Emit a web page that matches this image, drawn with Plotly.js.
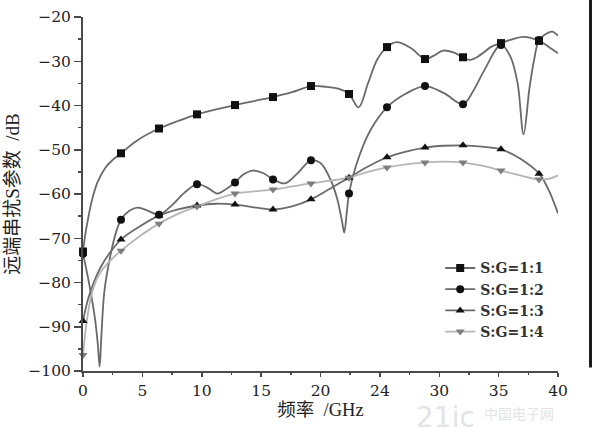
<!DOCTYPE html>
<html>
<head>
<meta charset="utf-8">
<script src="https://cdn.plot.ly/plotly-3.0.1.min.js"></script>
<style>html,body{margin:0;padding:0;background:#fff;}#chart{width:592px;height:439px;}</style>
</head>
<body>
<div id="chart"></div>
<script>
// Series names
const seriesNames = ["S:G=1:1", "S:G=1:2", "S:G=1:3", "S:G=1:4"];

// Frequencies where markers are drawn (GHz)
const markerX = [0, 3.2, 6.4, 9.6, 12.8, 16, 19.2, 22.4, 25.6, 28.8, 32, 35.2, 38.4];

// S:G=1:1 curve (GHz, dB)
const s1x = [0, 0.2, 0.4, 0.7, 1.2, 1.9, 2.5, 3.2, 4.5, 6.4, 8, 9.6, 11.2, 12.8, 14.4, 16, 17.6, 19.2, 20.5, 21.5, 22.4, 23.2, 24.0, 24.8, 25.6, 26.4, 27.6, 28.8, 29.5, 30.3, 31.2, 32, 32.6, 33.5, 34.4, 35.2, 36.2, 37.1, 38.4, 39.2, 40];
const s1y = [-73, -69, -66, -62, -57.5, -54, -52.3, -50.8, -48, -45.2, -43.5, -42.0, -40.9, -39.9, -39, -38.1, -37, -35.6, -35.8, -36.2, -37.4, -40.4, -35, -29.5, -26.8, -25.7, -27, -29.5, -28.8, -27.6, -28, -29.1, -29.7, -28.5, -26.7, -25.9, -25, -24.5, -25.4, -26.7, -28.2];

// S:G=1:2 curve
const s2x = [0, 0.5, 1.0, 1.25, 1.4, 1.55, 1.8, 2.3, 2.8, 3.2, 3.9, 4.6, 5.5, 6.4, 7.5, 8.5, 9.6, 10.5, 11.3, 12.0, 12.8, 13.5, 14.3, 15.2, 16, 17.0, 18.0, 19.2, 20.0, 20.8, 21.4, 21.8, 22.0, 22.2, 22.4, 23.0, 24.2, 25.6, 27.2, 28.8, 30.4, 32, 32.8, 33.8, 35.2, 36.0, 36.6, 37.1, 37.6, 38.0, 38.4, 39.0, 39.5, 40];
const s2y = [-73.5, -80, -88, -94, -99, -92, -82, -74, -68.5, -65.8, -63.8, -63.1, -63.8, -64.7, -62.5, -59.8, -57.8, -58.6, -59.9, -59, -57.4, -55.6, -54.7, -55.3, -56.7, -57.6, -55.5, -52.4, -53, -56.5, -61, -66, -68.7, -64.5, -59.9, -53.5, -45.6, -40.4, -37.3, -35.6, -37.2, -39.7, -37, -32, -26.3, -29, -35, -46.5, -36, -29.5, -25.2, -23.8, -23.3, -24.2];

// S:G=1:3 curve
const s3x = [0, 0.4, 0.9, 1.5, 2.2, 3.2, 4.8, 6.4, 8, 9.6, 11.2, 12.8, 14.4, 16, 17.6, 19.2, 20.8, 22.4, 24, 25.6, 27.2, 28.8, 30.4, 32, 33.6, 35.2, 36.8, 38.4, 39.2, 40];
const s3y = [-88.7, -84, -80, -76.5, -73.5, -70.3, -67.3, -64.9, -63.5, -62.6, -62.2, -62.4, -63.0, -63.5, -62.8, -61.2, -58.8, -56.3, -53.8, -51.7, -50.4, -49.5, -49.1, -49.0, -49.3, -49.9, -52, -55.4, -59, -64.4];

// S:G=1:4 curve
const s4x = [0, 0.3, 0.7, 1.2, 1.8, 2.5, 3.2, 4.8, 6.4, 8, 9.6, 11.2, 12.8, 14.4, 16, 17.6, 19.2, 20.8, 22.4, 24, 25.6, 27.2, 28.8, 30.4, 32, 33.6, 35.2, 36.8, 38.4, 39.2, 40];
const s4y = [-96.4, -89, -83, -79, -76.5, -74.5, -72.8, -69.5, -66.7, -64.5, -62.8, -61.2, -59.9, -59.4, -59.0, -58.3, -57.6, -57, -56.3, -55, -54.0, -53.3, -52.9, -52.7, -52.9, -53.6, -54.7, -55.8, -56.7, -56.6, -55.8];

// Axis ticks
const xTickVals = [0, 5, 10, 15, 20, 25, 30, 35, 40];
const xTickText = ["0", "5", "10", "15", "20", "24", "30", "35", "40"];
const yTickVals = [-100, -90, -80, -70, -60, -50, -40, -30, -20];

const serif = "'DejaVu Serif', 'Liberation Serif', serif";
const cjk = "'Liberation Serif', 'Noto Sans CJK SC', serif";
const lineCols = ["#6a6a6a", "#6a6a6a", "#6a6a6a", "#b5b5b5"];
const markCols = ["#111111", "#111111", "#111111", "#7d7d7d"];
const symbols = ["square", "circle", "triangle-up", "triangle-down"];
const xs = [s1x, s2x, s3x, s4x];
const ys = [s1y, s2y, s3y, s4y];

const traces = [];
for (let i = 0; i < 4; i++) {
  traces.push({
    x: xs[i], y: ys[i], mode: "lines", type: "scatter", showlegend: false,
    line: {color: lineCols[i], width: 1.8, shape: "spline", smoothing: 1},
    cliponaxis: false, hoverinfo: "skip"
  });
}
for (let i = 0; i < 4; i++) {
  const my = markerX.map(v => ys[i][xs[i].indexOf(v)]);
  traces.push({
    x: markerX, y: my, mode: "markers", type: "scatter", showlegend: false,
    marker: {symbol: symbols[i], size: 8, color: markCols[i]},
    cliponaxis: false
  });
}
for (let i = 0; i < 4; i++) {
  traces.push({
    x: [null], y: [null], mode: "lines+markers", type: "scatter", name: "<b>" + seriesNames[i] + "</b>",
    line: {color: lineCols[i], width: 1.8},
    marker: {symbol: symbols[i], size: 8, color: markCols[i]}
  });
}

const layout = {
  width: 592, height: 439,
  margin: {l: 83, r: 34, t: 17, b: 68},
  paper_bgcolor: "#ffffff", plot_bgcolor: "#ffffff",
  showlegend: true,
  legend: {x: 0.752, y: 0.335, xanchor: "left", yanchor: "top",
    font: {family: serif, size: 14, color: "#333"}, bgcolor: "rgba(0,0,0,0)",
    tracegroupgap: 0},
  xaxis: {
    range: [0, 40], tickvals: xTickVals, ticktext: xTickText,
    showgrid: false, zeroline: false, showline: true, linecolor: "#4a4a4a", linewidth: 2,
    ticks: "outside", ticklen: 4, tickwidth: 1.5, tickcolor: "#4a4a4a",
    minor: {dtick: 2.5, ticks: "outside", ticklen: 2, tickcolor: "#4a4a4a"},
    tickfont: {family: serif, size: 15.5, color: "#222"},
    title: {text: "频率  /GHz", font: {family: cjk, size: 18.5, color: "#222"}, standoff: 1}
  },
  yaxis: {
    range: [-100, -20], tickvals: yTickVals,
    showgrid: false, zeroline: false, showline: true, linecolor: "#4a4a4a", linewidth: 2,
    ticks: "outside", ticklen: 7, tickwidth: 1.5, tickcolor: "#4a4a4a",
    minor: {dtick: 5, ticks: "outside", ticklen: 3, tickcolor: "#4a4a4a"},
    tickfont: {family: serif, size: 15.5, color: "#222"},
    title: {text: "远端串扰S参数  /dB", font: {family: cjk, size: 19, color: "#222"}, standoff: 4}
  },
  shapes: [
    {type: "line", xref: "paper", yref: "paper", x0: 1.0695, x1: 1.0695, y0: 0.01, y1: 1.06,
     line: {color: "#1a1a1a", width: 4}}
  ],
  annotations: [
    {xref: "paper", yref: "paper", x: 0.83, y: -0.078, yanchor: "top", text: "21ic", showarrow: false,
     font: {family: "'DejaVu Sans', sans-serif", size: 28, color: "#e4e4e4"}},
    {xref: "paper", yref: "paper", x: 0.995, y: -0.085, yanchor: "top", text: "中国电子网", showarrow: false,
     font: {family: "'Noto Sans CJK SC', sans-serif", size: 14, color: "#e4e4e4"}}
  ]
};

Plotly.newPlot("chart", traces, layout, {displayModeBar: false, staticPlot: true});
</script>
</body>
</html>
